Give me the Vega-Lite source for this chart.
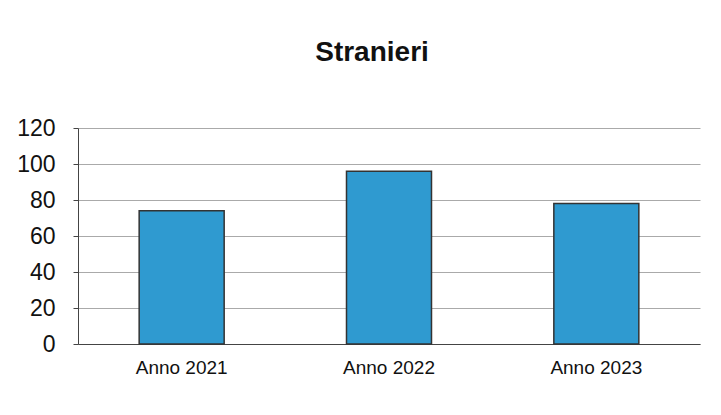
{
  "$schema": "https://vega.github.io/schema/vega-lite/v6.json",
  "width": 622,
  "height": 216,
  "autosize": "none",
  "padding": {"left": 78, "top": 128, "right": 21, "bottom": 71},
  "background": "white",
  "title": {
    "text": "Stranieri",
    "font": "Liberation Sans",
    "fontSize": 28,
    "fontWeight": "bold",
    "color": "#111111",
    "anchor": "middle",
    "dx": -17,
    "offset": 50
  },
  "data": {
    "values": [
      {"anno": "Anno 2021", "valore": 74},
      {"anno": "Anno 2022", "valore": 96},
      {"anno": "Anno 2023", "valore": 78}
    ]
  },
  "mark": {"type": "bar", "fill": "#2f9ad0", "stroke": "#333333", "strokeWidth": 1.5},
  "encoding": {
    "x": {
      "field": "anno",
      "type": "nominal",
      "sort": null,
      "title": null,
      "scale": {"paddingInner": 0.59, "paddingOuter": 0.295},
      "axis": {
        "labelAngle": 0,
        "labelFont": "Liberation Sans",
        "labelFontSize": 19,
        "labelColor": "#111111",
        "labelPadding": 14,
        "domainColor": "#444444",
        "ticks": false,
        "grid": false
      }
    },
    "y": {
      "field": "valore",
      "type": "quantitative",
      "title": null,
      "scale": {"domain": [0, 120]},
      "axis": {
        "values": [0, 20, 40, 60, 80, 100, 120],
        "labelFont": "Liberation Sans",
        "labelFontSize": 23,
        "labelColor": "#111111",
        "labelPadding": 18,
        "domainColor": "#444444",
        "tickColor": "#444444",
        "tickSize": 5,
        "gridColor": "#aaaaaa",
        "grid": true
      }
    }
  },
  "config": {"view": {"stroke": null}}
}
